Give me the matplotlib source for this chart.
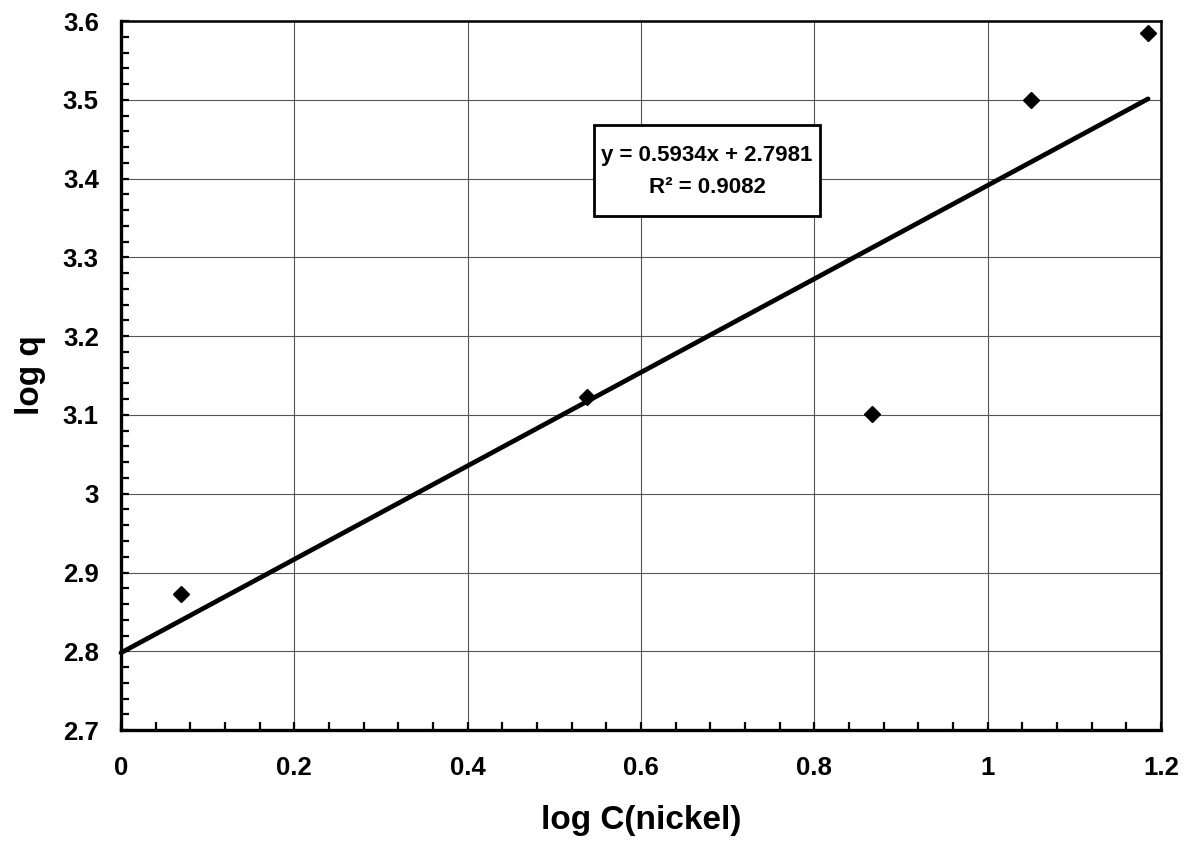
import matplotlib
matplotlib.use("Agg")
import matplotlib.pyplot as plt
from matplotlib.patches import Rectangle
from matplotlib.ticker import MultipleLocator, FormatStrFormatter
import numpy as np

plt.rcParams['font.family'] = ['Liberation Sans', 'DejaVu Sans']
plt.rcParams['font.weight'] = 'bold'

# isotherm data (log-log)
log_c = [0.069, 0.538, 0.866, 1.050, 1.185]
log_q = [2.873, 3.123, 3.101, 3.500, 3.585]

# fitted line as reported
slope = 0.5934
intercept = 2.7981
r2 = 0.9082

fig = plt.figure(figsize=(11.86, 8.44), dpi=100)
ax = fig.add_axes([0.102, 0.135, 0.877, 0.840])

ax.set_xlim(0, 1.2)
ax.set_ylim(2.7, 3.6)

ax.grid(True, which='major', color='#555555', lw=0.8)
ax.set_axisbelow(True)

xf = np.array([0.0, max(log_c)])
ax.plot(xf, slope * xf + intercept, color='black', lw=3.4,
        solid_capstyle='round', zorder=3, clip_on=False)
ax.plot(log_c, log_q, linestyle='none', marker='D', markersize=8.5,
        color='black', zorder=4, clip_on=False)

ax.xaxis.set_major_locator(MultipleLocator(0.2))
ax.xaxis.set_minor_locator(MultipleLocator(0.04))
ax.yaxis.set_major_locator(MultipleLocator(0.1))
ax.yaxis.set_minor_locator(MultipleLocator(0.02))
ax.xaxis.set_major_formatter(FormatStrFormatter('%g'))
ax.yaxis.set_major_formatter(FormatStrFormatter('%g'))

ax.tick_params(axis='both', which='both', direction='in', length=6,
               width=1.6, color='black', top=False, right=False)
ax.tick_params(axis='x', which='major', labelsize=18.5, pad=19)
ax.tick_params(axis='y', which='major', labelsize=18.5, pad=16)
for lbl in ax.get_xticklabels() + ax.get_yticklabels():
    lbl.set_fontweight('bold')

for side in ['left', 'bottom']:
    ax.spines[side].set_linewidth(2.4)
for side in ['top', 'right']:
    ax.spines[side].set_linewidth(1.8)

ax.set_xlabel('log C(nickel)', fontsize=24, fontweight='bold', labelpad=18)
ax.set_ylabel('log q', fontsize=24, fontweight='bold', labelpad=12)

# equation label with its own frame
box = Rectangle((0.5457, 3.3525), 0.2608, 0.1155, fc='white', ec='black',
                lw=2, zorder=5)
ax.add_patch(box)
eq = f"y = {slope:.4f}x + {intercept:.4f}\nR\u00b2 = {r2:.4f}"
ax.text(0.6761, 3.409, eq, fontsize=16, fontweight='bold', ha='center',
        va='center', linespacing=1.7, zorder=6)

fig.savefig('out.png', dpi=100)
